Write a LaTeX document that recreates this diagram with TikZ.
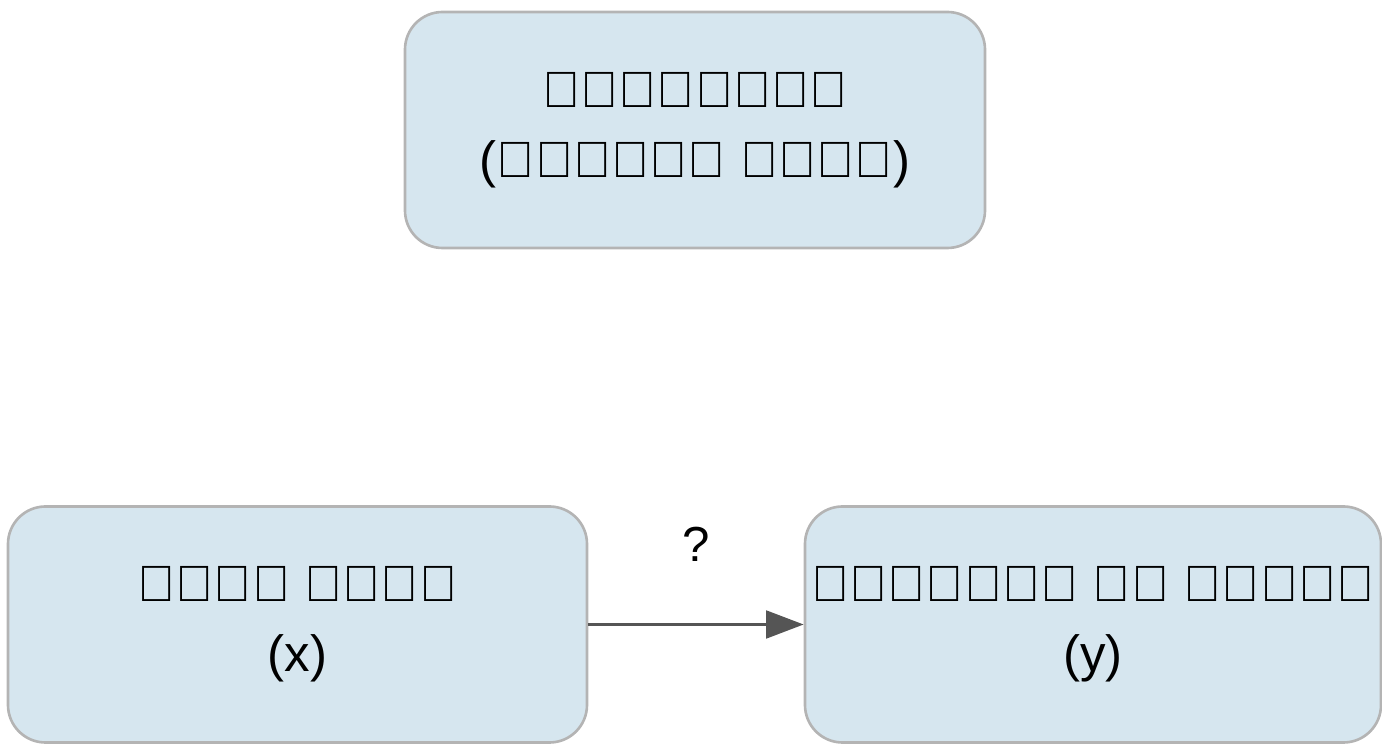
\documentclass[tikz,border=0pt]{standalone}
\usepackage{fontspec}
\setmainfont{Liberation Sans}
\usetikzlibrary{arrows.meta}
\definecolor{boxfill}{HTML}{D6E6EF}
\definecolor{boxline}{HTML}{B4B4B4}
\definecolor{arr}{HTML}{555555}
\begin{document}
\begin{tikzpicture}
\useasboundingbox (0,0) rectangle (27.64,15.04);
\tikzset{box/.style={draw=boxline,line width=1.5pt,fill=boxfill,rounded corners=0.75cm,
  minimum height=4.72cm,align=center,font=\fontsize{29}{40}\selectfont,text=black}}
\node[box,minimum width=11.6cm] (s) at (13.9,12.44) {धूम्रपान\\(भ्रामक कारक)};
\node[box,minimum width=11.58cm] (x) at (5.95,2.55) {कॉफी पीना\\(x)};
\node[box,minimum width=11.52cm] (y) at (21.86,2.55) {फेफड़ों का कैंसर\\(y)};
\draw[arr,line width=2pt,-{Triangle[length=0.75cm,width=0.55cm]}] (x.east) -- (y.west)
  node[midway,above=1.1cm,font=\fontsize{28}{32}\selectfont,text=black] (q) {?};
\end{tikzpicture}
\end{document}
